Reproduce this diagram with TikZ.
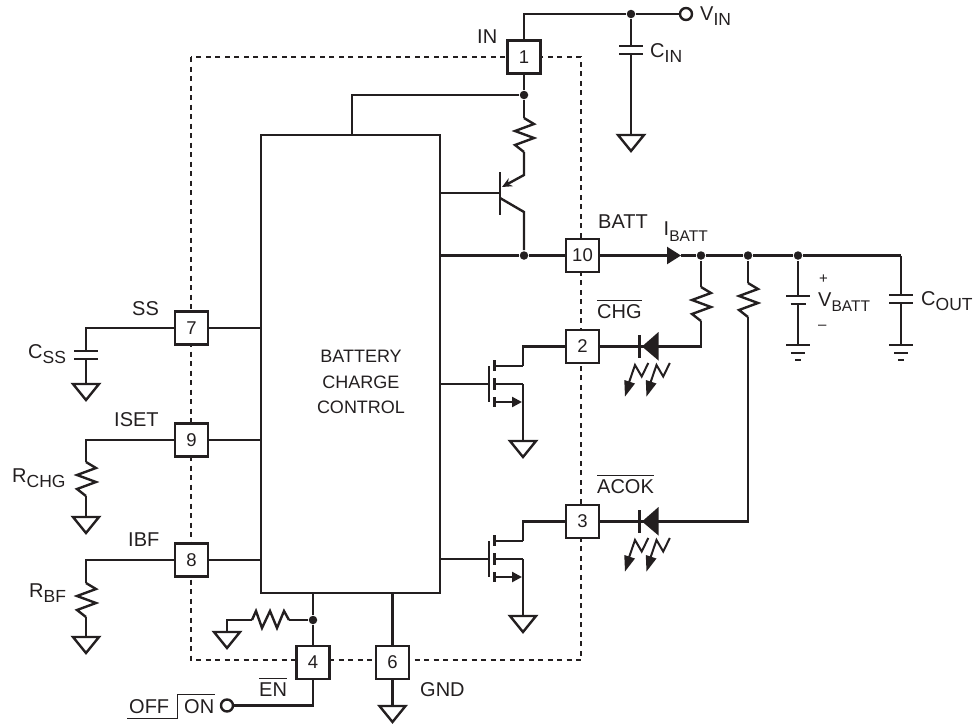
\documentclass[tikz,border=0pt]{standalone}
\usepackage{fontspec}
\setmainfont{Liberation Sans}
\usepackage{tikz}
\usepackage{xcolor}
\usetikzlibrary{positioning,arrows.meta}

\definecolor{ink}{HTML}{231F20}

\newcommand{\lsub}[2][17.5]{\raisebox{-5.5pt}{\fontsize{#1}{#1}\selectfont #2}}
\newcommand{\barred}[1]{\vbox{\hrule height 1pt \kern 3.5pt \hbox{#1}}}

\tikzset{
    resv/.pic={
        \draw (0,0) -- (10,6) -- (-9,13) -- (10,20) -- (-9,27) -- (0,34);
        \coordinate (-a) at (0,0);
        \coordinate (-b) at (0,34);
    },
    resh/.pic={
        \draw (0,0) -- (4,-9) -- (10,8) -- (18,-9) -- (25,8) -- (32,-9) -- (37,0);
        \coordinate (-a) at (0,0);
        \coordinate (-b) at (37,0);
    },
    capv/.pic={
        \draw (-12,-4) -- (12,-4);
        \draw (-12,4) -- (12,4);
        \coordinate (-a) at (0,-4);
        \coordinate (-b) at (0,4);
    },
    battv/.pic={
        \draw (-12,-4) -- (12,-4);
        \draw (-7.5,4) -- (7.5,4);
        \coordinate (-a) at (0,-4);
        \coordinate (-b) at (0,4);
    },
    gndtri/.pic={
        \draw (-13,0) -- (13,0) -- (0,16) -- cycle;
        \coordinate (-a) at (0,0);
    },
    gndbar/.pic={
        \draw (-12,0) -- (12,0);
        \draw (-7,8) -- (7,8);
        \draw (-3,15) -- (3,15);
        \coordinate (-a) at (0,0);
    },
    ledv/.pic={
        \fill (0,0) -- (16.5,-14.5) -- (16.5,14) -- cycle;
        \draw (-2.7,-11.5) -- (-2.7,11.5);
        \foreach \dx in {0,21.5} {
            \begin{scope}[xshift=\dx pt]
                \draw[line width=2pt] (6.3,16.5) -- (-0.3,30) -- (-7,18.5) -- (-13,36);
                \fill (-17,50) -- (-7,37) -- (-17.7,33.5) -- cycle;
            \end{scope}
        }
    },
    fetn/.pic={
        \draw (0,-18) -- (0,18);
        \draw (5.5,-24) -- (5.5,-13);
        \draw (5.5,-6) -- (5.5,6);
        \draw (5.5,13) -- (5.5,23);
        \draw (5.5,-18) -- (34,-18);
        \draw (5.5,0) -- (34,0);
        \draw[-{Triangle[length=10pt,width=10pt]}] (5.5,18) -- (33,18);
        \coordinate (-g) at (0,0);
        \coordinate (-d) at (34,-18);
        \coordinate (-s) at (34,0);
    }
}

\begin{document}
\begin{tikzpicture}[
    x=1pt,
    y=-1pt,
    line width=2.4pt,
    color=ink,
    font=\fontsize{20}{20}\selectfont
]

\useasboundingbox (0,0) rectangle (975,724);

\tikzstyle{pinbox}=[
    rectangle,
    draw,
    fill=white,
    minimum size=33pt,
    inner sep=0pt,
    font=\fontsize{18.5}{18.5}\selectfont
]
\tikzstyle{ctrlbox}=[
    rectangle,
    draw,
    minimum width=179pt,
    minimum height=458pt,
    inner sep=0pt
]
\tikzstyle{jn}=[
    circle,
    fill,
    minimum size=8.5pt,
    inner sep=0pt
]
\tikzstyle{port}=[
    circle,
    draw,
    fill=white,
    minimum size=12pt,
    inner sep=0pt
]
\tikzstyle{lbl}=[
    anchor=base west,
    inner sep=0pt
]

\draw[dash pattern=on 5pt off 4.5pt] (191,57) rectangle (581,660);

\node[ctrlbox] (ctrl) at (350.5,364) {};
\node[inner sep=0pt, align=center, font=\fontsize{18}{25.5}\selectfont] (ctrltext) at (361,382) {BATTERY\\CHARGE\\CONTROL};

\node[pinbox] (pin1) at (524,57) {1};
\node[pinbox] (pin10) at (582.5,255.5) {10};
\node[pinbox] (pin2) at (582.5,346.5) {2};
\node[pinbox] (pin3) at (582.5,521.5) {3};
\node[pinbox] (pin7) at (191.5,328) {7};
\node[pinbox] (pin9) at (191.5,440) {9};
\node[pinbox] (pin8) at (191.5,560) {8};
\node[pinbox] (pin4) at (313,662.5) {4};
\node[pinbox] (pin6) at (392.5,662.5) {6};

\coordinate (intop) at (524,14);
\node[jn] (vindot) at (631,14) {};
\node[port] (vin) at (686,14) {};
\pic (cin) at (631,50) {capv};
\pic (gin) at (631,135) {gndtri};
\draw (pin1) -- (intop) -- (vindot) -- (vin);
\draw (vindot) -- (cin-a);
\draw (cin-b) -- (gin-a);

\node[jn] (intap) at (524,95) {};
\coordinate (railend) at (352,95);
\draw (pin1) -- (intap) -- (railend) -- (railend |- ctrl.north);
\pic (resq) at (524,118) {resv};
\draw (intap) -- (resq-a);

\coordinate (qbase) at (500,193);
\coordinate (qbartop) at (500,172);
\coordinate (qbarbot) at (500,215);
\coordinate (qeknee) at (524,175);
\coordinate (qetip) at (502,187);
\coordinate (qcstart) at (500,198);
\coordinate (qcknee) at (524,212);
\node[jn] (batttap) at (524,255.5) {};
\draw (ctrl.east |- qbase) -- (qbase);
\draw (qbartop) -- (qbarbot);
\draw[-{Stealth[length=10pt,width=9pt]}] (resq-b) -- (qeknee) -- (qetip);
\draw (qcstart) -- (qcknee) -- (batttap);
\draw (ctrl.east |- batttap) -- (batttap) -- (pin10);

\coordinate (iarrow) at (681,255.5);
\node[jn] (ledtap) at (701,255.5) {};
\node[jn] (acoktap) at (748,255.5) {};
\node[jn] (vbtap) at (798,255.5) {};
\coordinate (coutknee) at (901,255.5);
\draw[-{Triangle[length=14pt,width=17pt]}] (pin10) -- (iarrow);
\draw (iarrow) -- (ledtap) -- (acoktap) -- (vbtap) -- (coutknee);

\pic (vb) at (798,300) {battv};
\pic (gvb) at (798,345) {gndbar};
\draw (vbtap) -- (vb-a);
\draw (vb-b) -- (gvb-a);
\pic (cout) at (901,299) {capv};
\pic (gcout) at (901,345) {gndbar};
\draw (coutknee) -- (cout-a);
\draw (cout-b) -- (gcout-a);

\pic (resa) at (701,287) {resv};
\pic (resb) at (748,283) {resv};
\draw (ledtap) -- (resa-a);
\draw (acoktap) -- (resb-a);
\coordinate (chgknee) at (701,346.5);
\coordinate (acokknee) at (748,521.5);
\draw (pin2) -- (chgknee) -- (resa-b);
\draw (pin3) -- (acokknee) -- (resb-b);
\pic at (642,346.5) {ledv};
\pic at (642,521.5) {ledv};

\pic (feta) at (489,384) {fetn};
\pic (fetb) at (489,559) {fetn};
\pic (gfeta) at (523,441) {gndtri};
\pic (gfetb) at (523,616) {gndtri};
\draw (ctrl.east |- feta-g) -- (feta-g);
\draw (ctrl.east |- fetb-g) -- (fetb-g);
\draw (pin2) -| (feta-d);
\draw (pin3) -| (fetb-d);
\draw (feta-s) -- (gfeta-a);
\draw (fetb-s) -- (gfetb-a);

\coordinate (ssknee) at (86,328);
\pic (css) at (86,355) {capv};
\pic (gss) at (86,384) {gndtri};
\draw (ctrl.west |- pin7) -- (pin7) -- (ssknee) -- (css-a);
\draw (css-b) -- (gss-a);

\coordinate (isetknee) at (86,440);
\pic (rchg) at (86,462) {resv};
\pic (gset) at (86,517) {gndtri};
\draw (ctrl.west |- pin9) -- (pin9) -- (isetknee) -- (rchg-a);
\draw (rchg-b) -- (gset-a);

\coordinate (ibfknee) at (86,560);
\pic (rbf) at (86,583) {resv};
\pic (gbf) at (86,637) {gndtri};
\draw (ctrl.west |- pin8) -- (pin8) -- (ibfknee) -- (rbf-a);
\draw (rbf-b) -- (gbf-a);

\node[jn] (entap) at (313,620) {};
\pic (ren) at (252,620) {resh};
\coordinate (renknee) at (227,620);
\pic (gren) at (227,632) {gndtri};
\draw (ctrl.south -| pin4) -- (entap) -- (pin4);
\draw (entap) -- (ren-b);
\draw (ren-a) -- (renknee) -- (gren-a);
\coordinate (enknee) at (313,705.5);
\node[port] (enport) at (227,705.5) {};
\draw (pin4) -- (enknee) -- (enport);

\pic (g6) at (392.5,706) {gndtri};
\draw (ctrl.south -| pin6) -- (pin6) -- (g6-a);

\node[lbl] (lin) at (476,43) {IN};
\node[lbl] (lvin) at (699,20) {V\lsub{IN}};
\node[lbl] (lcin) at (649,57) {C\lsub{IN}};
\node[lbl] (lbatt) at (597,228) {BATT};
\node[lbl] (libatt) at (662.5,235.5) {I\lsub[15.5]{BATT}};
\node[lbl] (lchg) at (596,318) {\barred{CHG}};
\node[lbl] (lacok) at (596,493) {\barred{ACOK}};
\node[lbl] (lss) at (131,315) {SS};
\node[lbl] (liset) at (113,426) {ISET};
\node[lbl] (libf) at (127,546) {IBF};
\node[lbl] (lcss) at (27,358) {C\lsub{SS}};
\node[lbl] (lrchg) at (11,482) {R\lsub{CHG}};
\node[lbl] (lrbf) at (28,597) {R\lsub{BF}};
\node[lbl] (len) at (258,696) {\barred{EN}};
\node[lbl] (lgnd) at (419,696) {GND};
\node[lbl] (loff) at (128,713) {OFF};
\node[lbl] (lon) at (183,713) {ON};
\node[lbl] (lvbatt) at (817,306) {V\lsub[15.5]{BATT}};
\node[lbl, font=\fontsize{15}{15}\selectfont] (lplus) at (818,283) {+};
\node[lbl, font=\fontsize{15}{15}\selectfont] (lminus) at (817,329) {–};
\node[lbl] (lcout) at (920,305) {C\lsub{OUT}};

\coordinate (swa) at (127,718);
\coordinate (swb) at (177,718);
\coordinate (swc) at (177,694);
\coordinate (swd) at (215,694);
\draw[line width=1pt] (swa) -- (swb) -- (swc) -- (swd);

\end{tikzpicture}
\end{document}
